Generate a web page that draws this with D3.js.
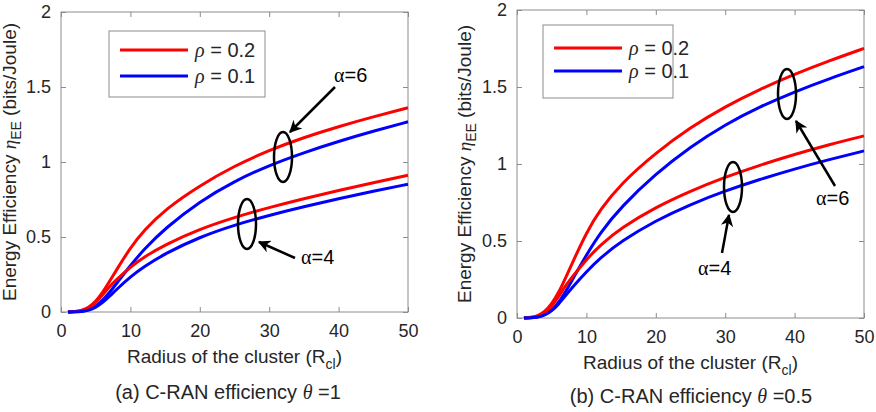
<!DOCTYPE html>
<html>
<head>
<meta charset="utf-8">
<script src="https://cdn.jsdelivr.net/npm/d3@7"></script>
<style>
  body { margin: 0; background: #fff; }
  svg { display: block; }
  text { font-family: "Liberation Sans", Arial, sans-serif; fill: #262626; }
  .tick text { font-size: 18px; fill: #262626; }
  .greek { font-family: "Liberation Serif", "DejaVu Serif", serif; font-style: italic; }
</style>
</head>
<body>
<svg width="876" height="412"></svg>
<script>
// radius of the cluster (x axis)
var radius = [1, 2, 3, 4, 5, 6, 7, 8, 10, 12, 15, 20, 25, 30, 35, 40, 45, 50];

// (a) theta = 1
var a_rho02_alpha6 = [0, 0.002, 0.01, 0.03, 0.07, 0.13, 0.205, 0.28, 0.43, 0.546, 0.684, 0.844, 0.974, 1.079, 1.164, 1.2365, 1.3015, 1.3615];
var a_rho01_alpha6 = [0, 0.001, 0.004, 0.014, 0.038, 0.078, 0.13, 0.19, 0.31, 0.42, 0.558, 0.738, 0.873, 0.978, 1.063, 1.138, 1.2055, 1.268];
var a_rho02_alpha4 = [0, 0.002, 0.009, 0.025, 0.06, 0.115, 0.17, 0.216, 0.30, 0.368, 0.449, 0.554, 0.6315, 0.6965, 0.7555, 0.8105, 0.8625, 0.912];
var a_rho01_alpha4 = [0, 0.001, 0.003, 0.011, 0.03, 0.063, 0.105, 0.15, 0.235, 0.303, 0.39, 0.50, 0.58, 0.645, 0.7025, 0.7555, 0.805, 0.852];

// (b) theta = 0.5
var b_rho02_alpha6 = [0, 0.003, 0.013, 0.04, 0.09, 0.165, 0.26, 0.36, 0.555, 0.705, 0.873, 1.073, 1.238, 1.373, 1.4855, 1.583, 1.6705, 1.7505];
var b_rho01_alpha6 = [0, 0.001, 0.006, 0.02, 0.05, 0.10, 0.17, 0.25, 0.41, 0.554, 0.722, 0.937, 1.112, 1.257, 1.372, 1.4695, 1.5545, 1.632];
var b_rho02_alpha4 = [0, 0.003, 0.011, 0.032, 0.075, 0.14, 0.21, 0.27, 0.38, 0.474, 0.585, 0.72, 0.825, 0.915, 0.9925, 1.0625, 1.1265, 1.1825];
var b_rho01_alpha4 = [0, 0.001, 0.005, 0.017, 0.045, 0.09, 0.145, 0.20, 0.30, 0.39, 0.498, 0.633, 0.738, 0.8255, 0.9005, 0.968, 1.029, 1.085];

var xTicks = [0, 10, 20, 30, 40, 50];
var yTicks = [0, 0.5, 1, 1.5, 2];
var legendLabels = ['0.2', '0.1'];
var seriesColors = ['#ff0000', '#0000ff'];

var svg = d3.select('svg');

const drawPanel = function(p) {
  var x = d3.scaleLinear().domain([0, 50]).range([p.left, p.right]);
  var y = d3.scaleLinear().domain([0, 2]).range([p.bottom, p.top]);
  var g = svg.append('g');

  // box
  g.append('rect')
    .attr('x', p.left).attr('y', p.top)
    .attr('width', p.right - p.left).attr('height', p.bottom - p.top)
    .attr('fill', 'none').attr('stroke', '#8c8c8c').attr('stroke-width', 1);

  var xa = g.append('g').attr('transform', 'translate(0,' + p.bottom + ')')
    .call(d3.axisBottom(x).tickValues(xTicks).tickSizeInner(-5).tickSizeOuter(0).tickPadding(12));
  var xt = g.append('g').attr('transform', 'translate(0,' + p.top + ')')
    .call(d3.axisTop(x).tickValues(xTicks).tickSizeInner(-5).tickSizeOuter(0).tickFormat(''));
  var ya = g.append('g').attr('transform', 'translate(' + p.left + ',0)')
    .call(d3.axisLeft(y).tickValues(yTicks).tickSizeInner(-5).tickSizeOuter(0).tickPadding(10).tickFormat(d3.format('')));
  var yr = g.append('g').attr('transform', 'translate(' + p.right + ',0)')
    .call(d3.axisRight(y).tickValues(yTicks).tickSizeInner(-5).tickSizeOuter(0).tickFormat(''));
  [xa, xt, ya, yr].forEach(function(a) {
    a.select('.domain').remove();
    a.selectAll('.tick line').attr('stroke', '#8c8c8c');
  });

  // curves
  var line = d3.line()
    .x(function(d, i) { return x(radius[i]); })
    .y(function(d) { return y(d); })
    .curve(d3.curveBasis);
  p.series.forEach(function(s) {
    g.append('path').datum(s.values)
      .attr('d', line)
      .attr('fill', 'none')
      .attr('stroke', seriesColors[s.color])
      .attr('stroke-width', 3);
  });

  // legend
  g.append('rect')
    .attr('x', p.legend.x).attr('y', p.legend.y)
    .attr('width', p.legend.w).attr('height', p.legend.h)
    .attr('fill', '#fff').attr('stroke', '#8c8c8c');
  legendLabels.forEach(function(lbl, i) {
    var ly = p.legend.y + p.legend.first + i * p.legend.gap;
    g.append('line')
      .attr('x1', p.legend.x + 11).attr('x2', p.legend.x + 79)
      .attr('y1', ly).attr('y2', ly)
      .attr('stroke', seriesColors[i]).attr('stroke-width', 3);
    var t = g.append('text').attr('x', p.legend.x + 86).attr('y', ly + 7).style('font-size', '20px');
    t.append('tspan').attr('class', 'greek').text('ρ');
    t.append('tspan').text(' = ' + lbl);
  });

  // annotations: ellipses, arrows, labels
  p.notes.forEach(function(n) {
    g.append('ellipse')
      .attr('cx', n.cx).attr('cy', n.cy).attr('rx', 9).attr('ry', 25)
      .attr('fill', 'none').attr('stroke', '#000').attr('stroke-width', 2.5);
    g.append('line')
      .attr('x1', n.ax1).attr('y1', n.ay1).attr('x2', n.ax2).attr('y2', n.ay2)
      .attr('stroke', '#000').attr('stroke-width', 2.5)
      .attr('marker-end', 'url(#arrow)');
    var t = g.append('text').attr('x', n.tx).attr('y', n.ty).style('font-size', '20px').style('fill', '#000');
    t.append('tspan').attr('class', 'greek').style('font-style', 'normal').text('α');
    t.append('tspan').text('=' + n.label);
  });

  // x label
  var xl = g.append('text')
    .attr('x', (p.left + p.right) / 2).attr('y', p.bottom + 51)
    .attr('text-anchor', 'middle').style('font-size', '19px');
  xl.append('tspan').text('Radius of the cluster (R');
  xl.append('tspan').attr('dy', 6).style('font-size', '14px').text('cl');
  xl.append('tspan').attr('dy', -6).text(')');

  // y label
  var yl = g.append('text')
    .attr('transform', 'translate(' + p.ylx + ',' + ((p.top + p.bottom) / 2) + ') rotate(-90)')
    .attr('text-anchor', 'middle').style('font-size', '19px');
  yl.append('tspan').text('Energy Efficiency ');
  yl.append('tspan').attr('class', 'greek').text('η');
  yl.append('tspan').attr('dy', 5).style('font-size', '14px').text('EE');
  yl.append('tspan').attr('dy', -5).text('  (bits/Joule)');

  // caption
  var cap = g.append('text')
    .attr('x', p.capx).attr('y', p.capy)
    .attr('text-anchor', 'middle').style('font-size', '20px');
  cap.append('tspan').text(p.capPre + ' C-RAN efficiency ');
  cap.append('tspan').attr('class', 'greek').text('θ');
  cap.append('tspan').text(' =' + p.capVal);
};

svg.append('defs').append('marker')
  .attr('id', 'arrow').attr('viewBox', '0 0 10 10')
  .attr('refX', 9).attr('refY', 5)
  .attr('markerWidth', 5).attr('markerHeight', 5)
  .attr('markerUnits', 'strokeWidth')
  .attr('orient', 'auto')
  .append('path').attr('d', 'M0,0 L10,5 L0,10 L3,5 Z').attr('fill', '#000');

drawPanel({
  left: 61, right: 408, top: 12, bottom: 312, ylx: 16,
  series: [
    { values: a_rho02_alpha6, color: 0 }, { values: a_rho01_alpha6, color: 1 },
    { values: a_rho02_alpha4, color: 0 }, { values: a_rho01_alpha4, color: 1 }
  ],
  legend: { x: 109, y: 31, w: 156, h: 66, first: 19, gap: 26 },
  notes: [
    { cx: 283, cy: 157, ax1: 335, ay1: 87, ax2: 290, ay2: 132, tx: 334, ty: 82, label: '6' },
    { cx: 247, cy: 224, ax1: 295, ay1: 258, ax2: 259, ay2: 242, tx: 301, ty: 264, label: '4' }
  ],
  capx: 228, capy: 399, capPre: '(a)', capVal: '1'
});

drawPanel({
  left: 517, right: 864, top: 10, bottom: 318, ylx: 471,
  series: [
    { values: b_rho02_alpha6, color: 0 }, { values: b_rho01_alpha6, color: 1 },
    { values: b_rho02_alpha4, color: 0 }, { values: b_rho01_alpha4, color: 1 }
  ],
  legend: { x: 543, y: 25, w: 130, h: 73, first: 23, gap: 23 },
  notes: [
    { cx: 787, cy: 94, ax1: 835, ay1: 186, ax2: 796, ay2: 121, tx: 816, ty: 205, label: '6' },
    { cx: 733, cy: 187, ax1: 722, ay1: 253, ax2: 729, ay2: 215, tx: 698, ty: 275, label: '4' }
  ],
  capx: 691, capy: 403, capPre: '(b)', capVal: '0.5'
});
</script>
</body>
</html>
